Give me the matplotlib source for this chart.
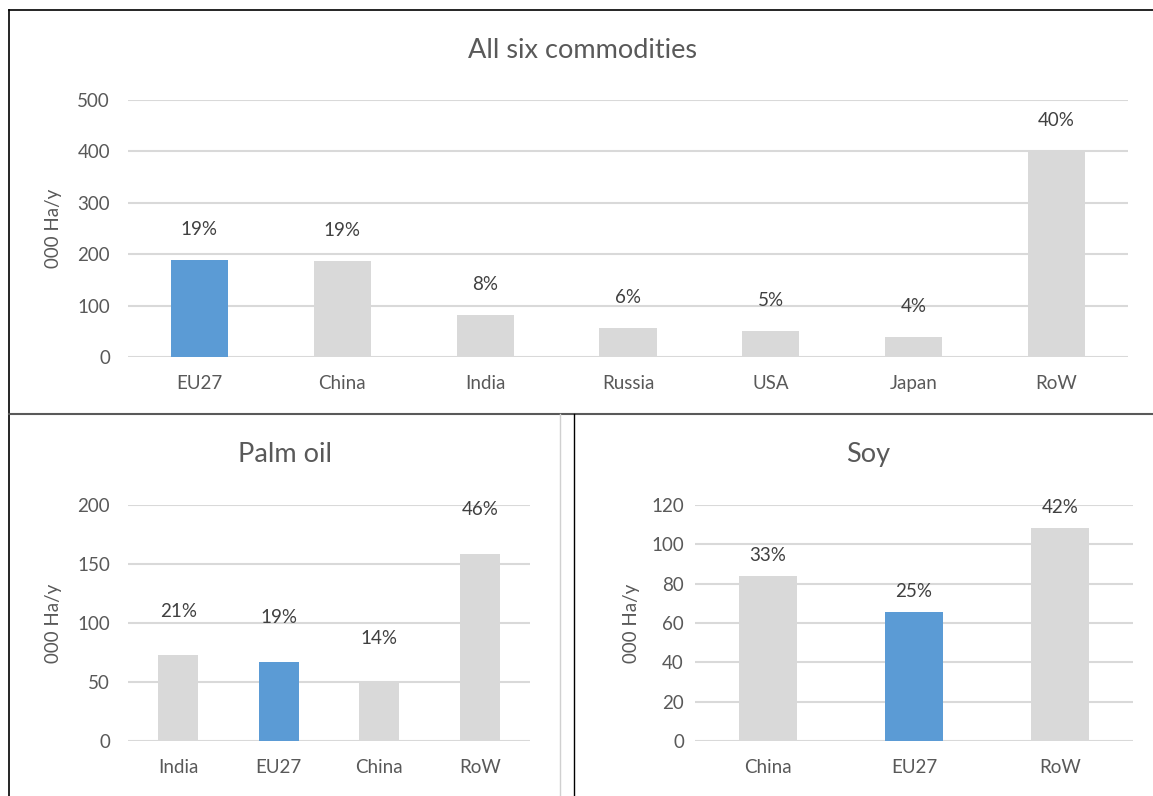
import matplotlib.pyplot as plt
from matplotlib.lines import Line2D

plt.rcParams['font.family'] = ['Lato', 'DejaVu Sans']

# data
all_regions = ['EU27', 'China', 'India', 'Russia', 'USA', 'Japan', 'RoW']
all_values = [189, 187, 82, 56, 51, 39, 401]
all_shares = ['19%', '19%', '8%', '6%', '5%', '4%', '40%']

palm_regions = ['India', 'EU27', 'China', 'RoW']
palm_values = [72.5, 67.3, 49.5, 158.8]
palm_shares = ['21%', '19%', '14%', '46%']

soy_regions = ['China', 'EU27', 'RoW']
soy_values = [83.9, 65.4, 108.1]
soy_shares = ['33%', '25%', '42%']

BLUE = '#5B9BD5'
GREY = '#D9D9D9'
TXT = '#595959'

W, H = 1153, 796
fig = plt.figure(figsize=(W / 100, H / 100), dpi=100)


def px_axes(x0, y0, x1, y1):
    # y measured from top of the image
    return fig.add_axes([x0 / W, 1 - y1 / H, (x1 - x0) / W, (y1 - y0) / H])


def bar_panel(ax, regions, values, shares, ymax, step, label_off, ypad, lpad):
    colors = [BLUE if r == 'EU27' else GREY for r in regions]
    x = range(len(regions))
    ax.bar(x, values, width=0.4, color=colors, zorder=3)
    for xi, v, s in zip(x, values, shares):
        ax.annotate(s, (xi, v), xytext=(0, label_off), textcoords='offset points',
                    ha='center', va='center', fontsize=13.5, color='#404040')
    ax.set_xlim(-0.5, len(regions) - 0.5)
    ax.set_ylim(0, ymax)
    ax.set_yticks(range(0, ymax + 1, step))
    ax.set_xticks(list(x))
    ax.set_xticklabels(regions)
    ax.grid(axis='y', color=GREY, linewidth=1.5, zorder=0)
    for sp in ax.spines.values():
        sp.set_visible(False)
    ax.tick_params(length=0, labelsize=13.5, labelcolor=TXT)
    ax.tick_params(axis='x', pad=13)
    ax.tick_params(axis='y', pad=ypad)
    ax.set_ylabel('000 Ha/y', fontsize=13.5, color=TXT, labelpad=lpad)


ax1 = px_axes(128, 100, 1128, 357)
bar_panel(ax1, all_regions, all_values, all_shares, 500, 100, 22, 13, 11)

ax2 = px_axes(128, 505, 530, 741)
bar_panel(ax2, palm_regions, palm_values, palm_shares, 200, 50, 32, 13, 11)

ax3 = px_axes(695, 505, 1133, 741)
bar_panel(ax3, soy_regions, soy_values, soy_shares, 120, 20, 15, 8, 8)

# chart titles, centred on each panel
fig.text(583 / W, 1 - 50 / H, 'All six commodities', fontsize=19.5, color=TXT,
         ha='center', va='center')
fig.text(285 / W, 1 - 455 / H, 'Palm oil', fontsize=19.5, color=TXT,
         ha='center', va='center')
fig.text(868 / W, 1 - 455 / H, 'Soy', fontsize=19.5, color=TXT,
         ha='center', va='center')


def fline(x0, y0, x1, y1, color, lw):
    fig.add_artist(Line2D([x0 / W, x1 / W], [1 - y0 / H, 1 - y1 / H],
                          color=color, linewidth=lw, transform=fig.transFigure))


# panel frames
fline(9, 10, W, 10, '#000000', 1.2)
fline(9, 10, 9, H, '#000000', 1.2)
fline(9, 414, W, 414, '#595959', 1.5)
fline(560, 414, 560, H, '#D0D0D0', 1.0)
fline(574, 414, 574, H, '#000000', 1.0)

fig.savefig('out.png', dpi=100)
